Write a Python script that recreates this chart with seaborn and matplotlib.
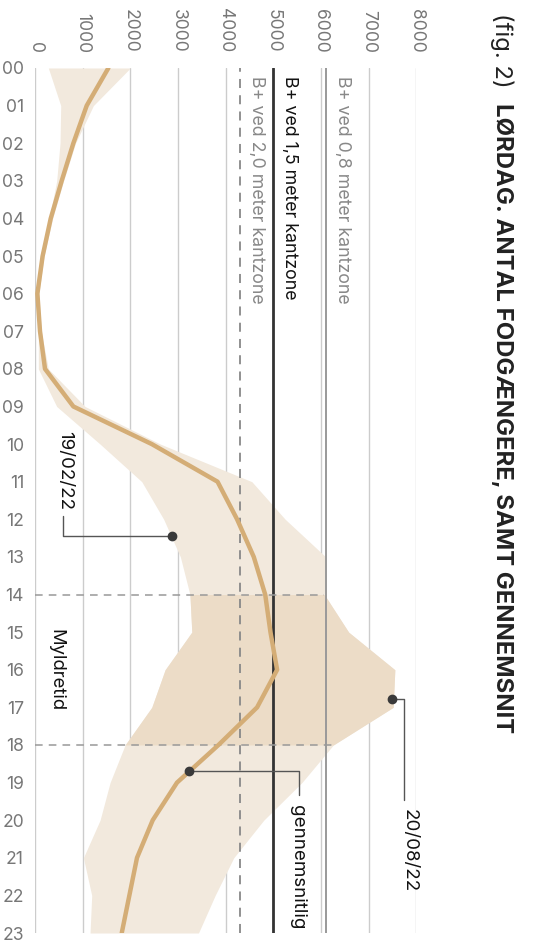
import matplotlib
matplotlib.use("Agg")
import matplotlib.pyplot as plt
import seaborn as sns
import numpy as np
import pandas as pd

# Data (lørdag, antal fodgængere pr. time)
timer = list(range(24))
timer_labels = [f"{h:02d}" for h in timer]
gennemsnit = [1540, 1085, 805, 560, 330, 160, 50, 105, 210, 805, 2450, 3830,
              4240, 4590, 4830, 4940, 5080, 4660, 3850, 2980, 2470, 2140, 1980, 1820]
minimum = [280, 540, 525, 455, 300, 110, 30, 70, 70, 455, 1365, 2240,
           2700, 3050, 3250, 3290, 2730, 2450, 1890, 1575, 1365, 1015, 1190, 1155]
maksimum = [2000, 1225, 850, 600, 370, 190, 80, 130, 280, 1050, 2630, 4550,
            5250, 6100, 6070, 6580, 7550, 7515, 6260, 5600, 4800, 4170, 3780, 3430]
vaerdi_ticks = list(range(0, 8001, 1000))

# Serviceniveauer
b_linjer = [6100, 5000, 4300]
b_labels = ["B+ ved 0,8 meter kantzone", "B+ ved 1,5 meter kantzone", "B+ ved 2,0 meter kantzone"]
myldretid = (14, 18)

df = pd.DataFrame({"time": timer, "snit": gennemsnit, "min": minimum, "max": maksimum})

sns.set_style("white")
plt.rcParams["font.family"] = ["Inter", "DejaVu Sans"]

fig = plt.figure(figsize=(5.34, 9.41), dpi=100)
ax = fig.add_axes([35 / 534, 1 - 933 / 941, (416.3 - 35) / 534, (933 - 68) / 941])

lys = "#f2e9dd"
moerk = "#ecdcc7"
linjefarve = "#d4ad76"

# baand min-max
ax.fill_betweenx(df["time"], df["min"], df["max"], color=lys, lw=0, zorder=1)
sub = df[(df["time"] >= myldretid[0]) & (df["time"] <= myldretid[1])]
ax.fill_betweenx(sub["time"], sub["min"], sub["max"], color=moerk, lw=0, zorder=1.1)

# gitter
for v in vaerdi_ticks:
    ax.axvline(v, color="#cccccc", lw=1, zorder=0.5)

# referencelinjer
ax.axvline(b_linjer[0], color="#999999", lw=1.4, zorder=2)
ax.axvline(b_linjer[1], color="#333333", lw=2, zorder=2)
ax.axvline(b_linjer[2], color="#888888", lw=1.3, ls=(0, (5, 4)), zorder=2)
farver = ["#888888", "#111111", "#888888"]
for v, lab, c in zip(b_linjer, b_labels, farver):
    ax.text(v + 350, 0.2, lab, rotation=270, ha="center", va="top", fontsize=12.8, color=c, zorder=3)

# myldretid
for h in myldretid:
    ax.plot([0, df.loc[h, "max"]], [h, h], color="#999999", lw=1.1, ls=(0, (5, 4)), zorder=2)
ax.text(430, 16, "Myldretid", rotation=270, ha="center", va="center", fontsize=13.3, color="#111111")

# gennemsnit
sns.lineplot(data=df, x="snit", y="time", orient="y", sort=False, color=linjefarve,
             lw=3.2, ax=ax, zorder=4)

# annoteringer
def anno(px, py, lx, ly, tx, ty, tekst, va):
    ax.plot([px, lx, lx], [py, py, ly], color="#555555", lw=1, zorder=5)
    ax.plot(px, py, "o", color="#3a3a3a", ms=6, zorder=6)
    ax.text(tx, ty, tekst, rotation=270, ha="center", va=va, fontsize=13.5, color="#111111")

anno(2880, 12.45, 590, 11.9, 630, 11.75, "19/02/22", "bottom")
anno(7500, 16.78, 7750, 19.47, 7840, 19.7, "20/08/22", "top")
anno(3235, 18.7, 5546, 19.33, 5515, 19.6, "gennemsnitlig", "top")

ax.set_xlim(0, 8000)
ax.set_ylim(23, 0)
ax.xaxis.tick_top()
ax.set_xticks(vaerdi_ticks)
ax.set_xticklabels([str(v) for v in vaerdi_ticks])
ax.set_yticks(timer)
ax.set_yticklabels(timer_labels)
ax.tick_params(axis="x", labelrotation=270, length=0, pad=11, labelsize=12.6, labelcolor="#777777")
ax.tick_params(axis="y", length=0, pad=8, labelsize=12.6, labelcolor="#777777")
ax.set_xlabel("")
ax.set_ylabel("")
for s in ax.spines.values():
    s.set_visible(False)

# titel
fig.text(502 / 534, 1 - 13 / 941, "(fig. 2)", rotation=270, ha="center", va="top",
         fontsize=17.2, color="#222222")
fig.text(502 / 534, 1 - 103 / 941, "LØRDAG. ANTAL FODGÆNGERE, SAMT GENNEMSNIT", rotation=270,
         ha="center", va="top", fontsize=17.2, fontweight="bold", color="#222222")

fig.savefig("out.png", dpi=100)
